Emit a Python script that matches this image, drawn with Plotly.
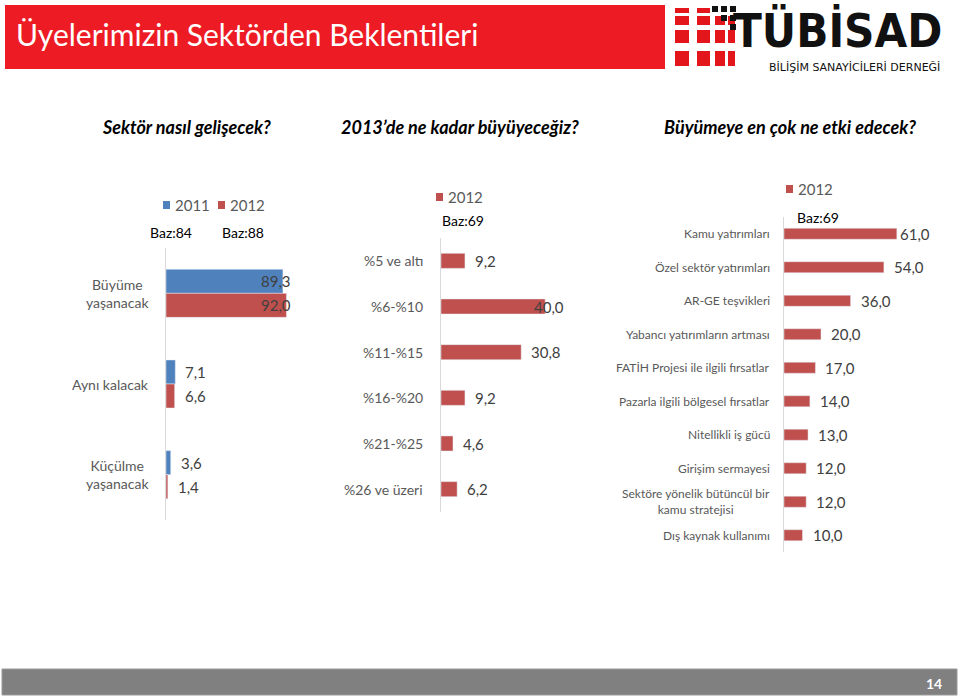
import plotly.graph_objects as go

# ---------------- data ----------------
p1_categories = ["Büyüme<br>yaşanacak", "Aynı kalacak", "Küçülme<br>yaşanacak"]
p1_2011 = [89.3, 7.1, 3.6]
p1_2012 = [92.0, 6.6, 1.4]
p1_series = ["2011", "2012"]
p1_bases = ["Baz:84", "Baz:88"]

p2_categories = ["%5 ve altı", "%6-%10", "%11-%15", "%16-%20", "%21-%25", "%26 ve üzeri"]
p2_values = [9.2, 40.0, 30.8, 9.2, 4.6, 6.2]
p2_series = "2012"
p2_base = "Baz:69"

p3_categories = ["Kamu yatırımları", "Özel sektör yatırımları", "AR-GE teşvikleri",
                 "Yabancı yatırımların artması", "FATİH Projesi ile ilgili fırsatlar",
                 "Pazarla ilgili bölgesel fırsatlar", "Nitellikli iş gücü", "Girişim sermayesi",
                 "Sektöre yönelik bütüncül bir<br>kamu stratejisi", "Dış kaynak kullanımı"]
p3_values = [61.0, 54.0, 36.0, 20.0, 17.0, 14.0, 13.0, 12.0, 12.0, 10.0]
p3_series = "2012"
p3_base = "Baz:69"

title_text = "Üyelerimizin Sektörden Beklentileri"
subtitles = ["Sektör nasıl gelişecek?", "2013’de ne kadar büyüyeceğiz?", "Büyümeye en çok ne etki edecek?"]
page_number = "14"

# ---------------- styling ----------------
W, H = 959, 697
BLUE = "#4F81BD"
RED = "#C0504D"
GRAY_TXT = "#595959"
LBL_TXT = "#404040"
FONT = "Lato, Open Sans, sans-serif"


def px(x):
    return x / W


def py(y):
    return 1 - y / H


def fmt(v):
    return f"{v:.1f}".replace(".", ",")


panels = {
    "1": dict(xd=(166, 293), yd=(248, 520), rng=97),
    "2": dict(xd=(441, 566), yd=(238, 512), rng=48),
    "3": dict(xd=(784, 932), yd=(217, 552), rng=80),
}

fig = go.Figure()

# panel 1 bars
fig.add_trace(go.Bar(y=p1_categories, x=p1_2011, orientation="h", marker_color=BLUE,
                     width=0.265, offset=-0.265, xaxis="x", yaxis="y", showlegend=False))
fig.add_trace(go.Bar(y=p1_categories, x=p1_2012, orientation="h", marker_color=RED,
                     width=0.265, offset=0.0, xaxis="x", yaxis="y", showlegend=False))
# panel 2 bars
fig.add_trace(go.Bar(y=p2_categories, x=p2_values, orientation="h", marker_color=RED,
                     width=0.33, offset=-0.165, xaxis="x2", yaxis="y2", showlegend=False))
# panel 3 bars
fig.add_trace(go.Bar(y=p3_categories, x=p3_values, orientation="h", marker_color=RED,
                     width=0.33, offset=-0.165, xaxis="x3", yaxis="y3", showlegend=False))

layout = dict(
    width=W, height=H, margin=dict(l=0, r=0, t=0, b=0),
    paper_bgcolor="white", plot_bgcolor="rgba(0,0,0,0)",
    barmode="overlay", font=dict(family=FONT, color=GRAY_TXT),
)
for k, p in panels.items():
    xa = "xaxis" if k == "1" else f"xaxis{k}"
    ya = "yaxis" if k == "1" else f"yaxis{k}"
    xr = "x" if k == "1" else f"x{k}"
    yr = "y" if k == "1" else f"y{k}"
    layout[xa] = dict(domain=[px(p["xd"][0]), px(p["xd"][1])], range=[0, p["rng"]],
                      anchor=yr, visible=False, fixedrange=True)
    layout[ya] = dict(domain=[py(p["yd"][1]), py(p["yd"][0])], autorange="reversed",
                      anchor=xr, type="category", showticklabels=False, showgrid=False,
                      zeroline=False, showline=True, linecolor="#D9D9D9", linewidth=1,
                      ticks="", fixedrange=True)
fig.update_layout(**layout)

annotations = []
shapes = []


def value_label(k, cat, v, yshift=0):
    p = panels[k]
    width_px = p["xd"][1] - p["xd"][0]
    scale = width_px / p["rng"]
    xr = "x" if k == "1" else f"x{k}"
    yr = "y" if k == "1" else f"y{k}"
    if v * scale + 8 + 30 > width_px:
        annotations.append(dict(x=p["rng"], y=cat, xref=xr, yref=yr, text=fmt(v),
                                xanchor="right", yshift=yshift, showarrow=False,
                                font=dict(size=15, color=LBL_TXT, family=FONT)))
    else:
        annotations.append(dict(x=v, y=cat, xref=xr, yref=yr, text=fmt(v),
                                xanchor="left", xshift=8, yshift=yshift, showarrow=False,
                                font=dict(size=15, color=LBL_TXT, family=FONT)))


def cat_label(k, cat, right_px, size):
    yr = "y" if k == "1" else f"y{k}"
    annotations.append(dict(x=px(right_px), y=cat, xref="paper", yref=yr, text=cat,
                            xanchor="right", align="center", showarrow=False,
                            font=dict(size=size, color=GRAY_TXT, family=FONT)))


for c, a, b in zip(p1_categories, p1_2011, p1_2012):
    value_label("1", c, a, yshift=12)
    value_label("1", c, b, yshift=-12)
    cat_label("1", c, 151, 14)
for c, v in zip(p2_categories, p2_values):
    value_label("2", c, v)
    cat_label("2", c, 425, 14)
for c, v in zip(p3_categories, p3_values):
    value_label("3", c, v)
    cat_label("3", c, 772, 12)


def paper_text(x, y, text, size, color="black", anchor="left", family=FONT):
    annotations.append(dict(x=px(x), y=py(y), xref="paper", yref="paper", text=text,
                            xanchor=anchor, yanchor="middle", showarrow=False,
                            font=dict(size=size, color=color, family=family)))


def legend_item(x, y, color, label):
    shapes.append(dict(type="rect", xref="paper", yref="paper", x0=px(x), x1=px(x + 7),
                       y0=py(y + 4), y1=py(y - 4), fillcolor=color, line_width=0))
    paper_text(x + 10, y, label, 15, GRAY_TXT)


# legends & bases
legend_item(163, 205, BLUE, p1_series[0])
legend_item(218, 205, RED, p1_series[1])
paper_text(171, 233, p1_bases[0], 14, "black", anchor="center")
paper_text(243, 233, p1_bases[1], 14, "black", anchor="center")

legend_item(436, 197, RED, p2_series)
paper_text(463, 220, p2_base, 14, "black", anchor="center")

legend_item(786, 189, RED, p3_series)
paper_text(818, 218, p3_base, 14, "black", anchor="center")

# title bar
shapes.append(dict(type="rect", xref="paper", yref="paper", x0=px(5), x1=px(665),
                   y0=py(69), y1=py(5), fillcolor="#ED1C24", line_width=0))
paper_text(14, 34, title_text, 30, "white")

# subtitles
for x, t in zip([186, 460, 790], subtitles):
    annotations.append(dict(x=px(x), y=py(127), xref="paper", yref="paper", text=f"<b><i>{t}</i></b>",
                            xanchor="center", yanchor="middle", showarrow=False,
                            font=dict(size=18, color="black", family=FONT)))

# logo: red sphere squares
red_cols = [(675, 689), (697, 710), (715, 725), (728, 735)]
red_rows = [(8, 13), (16, 25), (30, 43), (51, 66)]
for ci, (x0, x1) in enumerate(red_cols):
    for ri, (y0, y1) in enumerate(red_rows):
        if ri == 0 and ci > 1:
            continue
        shapes.append(dict(type="rect", xref="paper", yref="paper", x0=px(x0), x1=px(x1),
                           y0=py(y1), y1=py(y0), fillcolor="#E3161C", line_width=0))
black_sq = [(712, 6), (721, 6), (730, 6), (721, 15), (730, 15), (730, 24)]
for x0, y0 in black_sq:
    shapes.append(dict(type="rect", xref="paper", yref="paper", x0=px(x0), x1=px(x0 + 6),
                       y0=py(y0 + 6), y1=py(y0), fillcolor="#111111", line_width=0))
annotations.append(dict(x=px(944), y=py(31), xref="paper", yref="paper", text="<b>TÜBİSAD</b>",
                        xanchor="right", yanchor="middle", showarrow=False,
                        font=dict(size=47, color="#111111",
                                  family="Liberation Sans Narrow, DejaVu Sans Condensed, sans-serif")))
annotations.append(dict(x=px(942), y=py(68), xref="paper", yref="paper",
                        text="BİLİŞİM SANAYİCİLERİ DERNEĞİ",
                        xanchor="right", yanchor="middle", showarrow=False,
                        font=dict(size=11, color="#111111", family="DejaVu Sans, sans-serif")))

# footer
shapes.append(dict(type="rect", xref="paper", yref="paper", x0=px(2), x1=px(957),
                   y0=py(695), y1=py(669), fillcolor="#808080", line=dict(color="#9A9A9A", width=1)))
paper_text(944, 683, f"<b>{page_number}</b>", 14, "white", anchor="right")

fig.update_layout(annotations=annotations, shapes=shapes)
fig.write_html("out.html", config={"displayModeBar": False},
               post_script="document.body.style.margin='0';document.body.style.overflow='hidden';")
